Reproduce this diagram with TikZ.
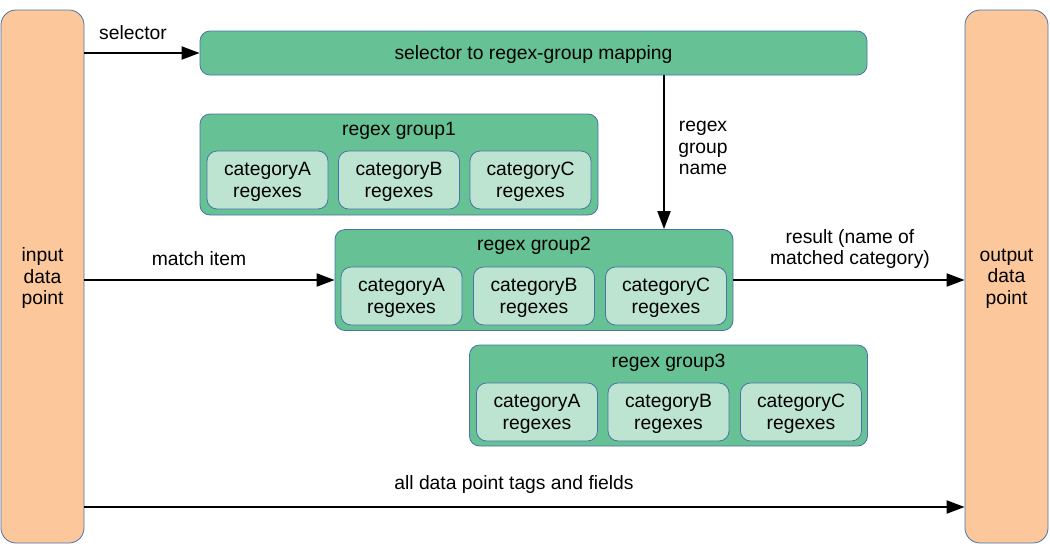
\documentclass[tikz,border=0pt]{standalone}
\usepackage{fontspec}
\setmainfont{Liberation Sans}
\usetikzlibrary{arrows.meta}
\definecolor{orng}{RGB}{252,200,155}
\definecolor{grp}{RGB}{102,194,149}
\definecolor{inr}{RGB}{189,228,209}
\definecolor{bdr}{RGB}{74,114,168}
\tikzset{
  every node/.style={font=\fontsize{19.3}{21.5}\selectfont, inner sep=0pt},
  side/.style={draw=bdr, fill=orng, rounded corners=15pt, line width=0.8pt, minimum width=83pt, minimum height=533pt, align=center, text depth=0pt},
  grpbox/.style={draw=bdr, fill=grp, rounded corners=10pt, line width=0.8pt, minimum width=398pt, minimum height=101pt},
  catbox/.style={draw=bdr, fill=inr, rounded corners=10pt, line width=0.8pt, minimum width=121pt, minimum height=58pt, align=center, text depth=0pt},
  mapbox/.style={draw=bdr, fill=grp, rounded corners=10pt, line width=0.8pt, minimum width=667pt, minimum height=44pt, text depth=0pt},
  flow/.style={line width=2pt, -{Triangle[length=18pt,width=13pt]}},
  lbl/.style={align=center}
}
\begin{document}
\begin{tikzpicture}[x=1pt,y=-1pt]
\useasboundingbox (0,0) rectangle (1050,555);
\node[side] (in) at (42.5,276.5) {input\\data\\point};
\node[side] (out) at (1006.5,276.5) {output\\data\\point};
\node[mapbox] (map) at (533.5,53) {selector to regex-group mapping};
% group 1
\node[grpbox] (g1) at (399,164.5) {};
\node[lbl] (g1t) at (399,131) {regex group1};
\node[catbox] (g1a) at (267.5,180) {categoryA\\regexes};
\node[catbox] (g1b) at (399,180) {categoryB\\regexes};
\node[catbox] (g1c) at (530.5,180) {categoryC\\regexes};
% group 2
\node[grpbox] (g2) at (534,280) {};
\node[lbl] (g2t) at (534,246) {regex group2};
\node[catbox] (g2a) at (401.5,296) {categoryA\\regexes};
\node[catbox] (g2b) at (534,296) {categoryB\\regexes};
\node[catbox] (g2c) at (666,296) {categoryC\\regexes};
% group 3
\node[grpbox] (g3) at (668.5,395.5) {};
\node[lbl] (g3t) at (668.5,363) {regex group3};
\node[catbox] (g3a) at (537,412) {categoryA\\regexes};
\node[catbox] (g3b) at (668.5,412) {categoryB\\regexes};
\node[catbox] (g3c) at (801,412) {categoryC\\regexes};
% connectors
\coordinate (rx) at (664,0);
\coordinate (tagsy) at (0,507);
\draw[flow] (in.east |- map.west) -- (map.west);
\draw[flow] (map.south -| rx) -- (g2.north -| rx);
\draw[flow] (in.east |- g2.west) -- (g2.west);
\draw[flow] (g2.east) -- (g2.east -| out.west);
\draw[flow] (in.east |- tagsy) -- (out.west |- tagsy);
% labels
\node[lbl] (lsel) at (133,33) {selector};
\node[lbl] (lrgn) at (703,148) {regex\\group\\name};
\node[lbl] (lmatch) at (199,259) {match item};
\node[lbl] (lres) at (850,249) {result (name of\\matched category)};
\node[lbl] (ltags) at (514,485) {all data point tags and fields};
\end{tikzpicture}
\end{document}
